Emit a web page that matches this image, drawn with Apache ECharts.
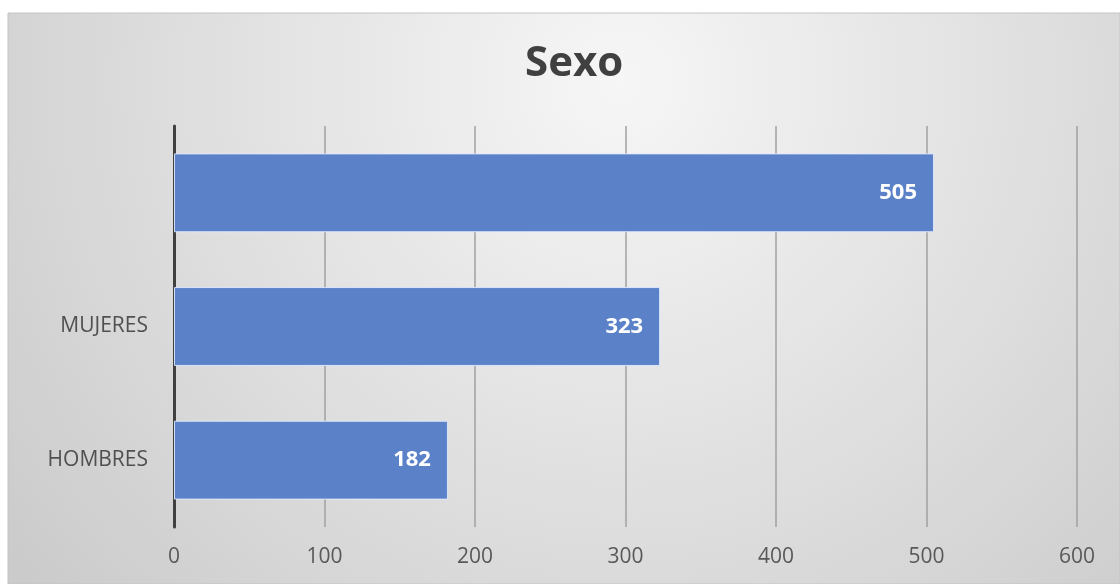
<!DOCTYPE html>
<html>
<head>
<meta charset="utf-8">
<script src="https://cdn.jsdelivr.net/npm/echarts@6/dist/echarts.min.js"></script>
<style>
  html, body { margin: 0; padding: 0; background: #ffffff; }
  #chart { width: 1120px; height: 584px; }
</style>
</head>
<body>
<div id="chart"></div>
<script>
// categories from bottom to top (the top bar has no label in the original)
const categories = ['HOMBRES', 'MUJERES', ''];
const values = [182, 323, 505];
const xTicks = [0, 100, 200, 300, 400, 500, 600];

const chart = echarts.init(document.getElementById('chart'), null, { renderer: 'canvas' });

const option = {
    backgroundColor: '#ffffff',
    animation: false,
    graphic: [
        {
            type: 'rect',
            z: -10,
            silent: true,
            shape: { x: 8, y: 13, width: 1112, height: 571 },
            style: {
                fill: {
                    type: 'radial',
                    x: 0.55, y: 0.12, r: 1.35,
                    colorStops: [
                        { offset: 0, color: '#f6f6f6' },
                        { offset: 0.45, color: '#e3e3e3' },
                        { offset: 1, color: '#cbcbcb' }
                    ]
                },
                stroke: '#c4c4c4',
                lineWidth: 1
            }
        }
    ],
    title: {
        text: 'Sexo',
        left: 520,
        top: 38,
        textStyle: {
            fontFamily: 'Open Sans',
            fontSize: 42,
            fontWeight: 'bold',
            color: '#404040'
        }
    },
    grid: {
        left: 174,
        right: 43,
        top: 126,
        bottom: 57
    },
    xAxis: {
        type: 'value',
        min: 0,
        max: 600,
        interval: 100,
        axisLine: { show: false },
        axisTick: { show: false },
        splitLine: {
            lineStyle: { color: '#a0a0a0', width: 1.5 }
        },
        axisLabel: {
            color: '#595959',
            fontFamily: 'Open Sans',
            fontSize: 21,
            margin: 20,
            formatter: (v) => xTicks.includes(v) ? String(v) : ''
        }
    },
    yAxis: {
        type: 'category',
        data: categories,
        axisLine: {
            show: true,
            lineStyle: { color: '#404040', width: 3 }
        },
        axisTick: { show: false },
        axisLabel: {
            color: '#505050',
            fontFamily: 'Open Sans',
            fontSize: 21,
            margin: 26
        }
    },
    series: [
        {
            type: 'bar',
            data: values,
            barCategoryGap: '41%',
            itemStyle: {
                color: '#5b81c9',
                borderColor: 'rgba(225,235,255,0.9)',
                borderWidth: 1
            },
            label: {
                show: true,
                position: 'insideRight',
                distance: 17,
                color: '#ffffff',
                fontFamily: 'Open Sans',
                fontWeight: 'bold',
                fontSize: 22
            }
        }
    ]
};

chart.setOption(option);
</script>
</body>
</html>
